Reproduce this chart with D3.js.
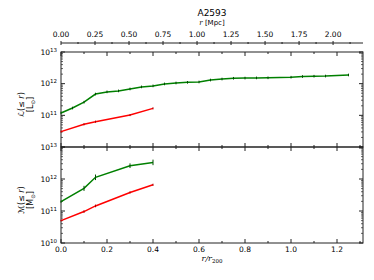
<!DOCTYPE html>
<html>
<head>
<meta charset="utf-8">
<title>A2593</title>
<script src="https://cdn.jsdelivr.net/npm/d3@7"></script>
<style>
body, html {
  margin: 0;
  background: #fff;
}
svg text {
  font-family: "DejaVu Sans", sans-serif;
  fill: #000;
}
</style>
</head>
<body>
<script>
// r/r200 sample radii and values
var lumX = [0, 0.05, 0.1, 0.15, 0.2, 0.25, 0.3, 0.35, 0.4, 0.45, 0.5, 0.55, 0.6, 0.65, 0.7, 0.75, 0.8, 0.85, 0.9, 1.0, 1.05, 1.1, 1.15, 1.25];
var lumGreen = [1.19e11, 1.7e11, 2.6e11, 4.7e11, 5.5e11, 5.9e11, 6.8e11, 7.9e11, 8.5e11, 9.8e11, 1.05e12, 1.1e12, 1.13e12, 1.3e12, 1.4e12, 1.48e12, 1.5e12, 1.52e12, 1.53e12, 1.6e12, 1.68e12, 1.72e12, 1.74e12, 1.88e12];
var lumGreenErr = 0.1;

var redX = [0, 0.1, 0.15, 0.3, 0.4];
var lumRed = [3.06e10, 5.2e10, 6.3e10, 1.02e11, 1.66e11];
var lumRedErr = 0.08;

var massX = [0, 0.1, 0.15, 0.3, 0.4];
var massGreen = [1.95e11, 5.1e11, 1.13e12, 2.6e12, 3.3e12];
var massGreenErr = [0.08, 0.2, 0.22, 0.18, 0.22];
var massRed = [5.0e10, 9.6e10, 1.44e11, 3.8e11, 6.6e11];
var massRedErr = [0.06, 0.1, 0.1, 0.08, 0.08];

var xTicks = [0, 0.2, 0.4, 0.6, 0.8, 1.0, 1.2];
var mpcTicks = [0, 0.25, 0.5, 0.75, 1.0, 1.25, 1.5, 1.75, 2.0];
var yTicks = [1e10, 1e11, 1e12, 1e13];

var W = 374, H = 280;
var left = 61, right = 363;
var topY0 = 52, topY1 = 147, botY0 = 147, botY1 = 243, mpcY = 43;

var svg = d3.select("body").append("svg")
  .attr("width", W).attr("height", H);

var x = d3.scaleLinear().domain([0, 1.313]).range([left, right]);
var xMpc = d3.scaleLinear().domain([0, 2.22]).range([left, right]);
var yTop = d3.scaleLog().domain([1e10, 1e13]).range([topY1, topY0]);
var yBot = d3.scaleLog().domain([1e10, 1e13]).range([botY1, botY0]);

var minorY = [];
for (var e = 10; e < 13; e++) {
  for (var k = 2; k < 10; k++) minorY.push(k * Math.pow(10, e));
}
var minorX = d3.range(0.1, 1.31, 0.2);

function panel(y, y0, y1, labels) {
  var g = svg.append("g");
  // frame
  g.append("rect").attr("x", left).attr("y", y0)
    .attr("width", right - left).attr("height", y1 - y0)
    .attr("fill", "none").attr("stroke", "#222").attr("stroke-width", 1);

  // x ticks, inward, bottom and top
  [[y1, -1], [y0, 1]].forEach(function (p) {
    g.selectAll(null).data(xTicks).enter().append("line")
      .attr("x1", d => x(d)).attr("x2", d => x(d))
      .attr("y1", p[0]).attr("y2", p[0] + p[1] * 4)
      .attr("stroke", "#222");
    g.selectAll(null).data(minorX).enter().append("line")
      .attr("x1", d => x(d)).attr("x2", d => x(d))
      .attr("y1", p[0]).attr("y2", p[0] + p[1] * 2)
      .attr("stroke", "#222");
  });

  // y ticks, inward, left and right
  [[left, 1], [right, -1]].forEach(function (p) {
    g.selectAll(null).data(yTicks).enter().append("line")
      .attr("y1", d => y(d)).attr("y2", d => y(d))
      .attr("x1", p[0]).attr("x2", p[0] + p[1] * 4)
      .attr("stroke", "#222");
    g.selectAll(null).data(minorY).enter().append("line")
      .attr("y1", d => y(d)).attr("y2", d => y(d))
      .attr("x1", p[0]).attr("x2", p[0] + p[1] * 2)
      .attr("stroke", "#222").attr("stroke-width", 0.7);
  });

  // y tick labels
  var t = g.selectAll(null).data(labels).enter().append("text")
    .attr("x", left - 4).attr("y", d => y(d) + 2.5)
    .attr("text-anchor", "end").attr("font-size", 7.5);
  t.append("tspan").text("10");
  t.append("tspan").attr("dy", -3).attr("font-size", 5.5)
    .text(d => Math.round(Math.log10(d)));
  return g;
}

panel(yTop, topY0, topY1, [1e11, 1e12, 1e13]);
panel(yBot, botY0, botY1, [1e10, 1e11, 1e12, 1e13]);

function series(y, xs, ys, errs, color, barColor) {
  var line = d3.line().x((d, i) => x(xs[i])).y(d => y(d));
  svg.append("path").datum(ys)
    .attr("d", line).attr("fill", "none")
    .attr("stroke", color).attr("stroke-width", 1.5);
  svg.selectAll(null).data(ys).enter().append("line")
    .attr("x1", (d, i) => x(xs[i])).attr("x2", (d, i) => x(xs[i]))
    .attr("y1", (d, i) => y(d * (1 + (Array.isArray(errs) ? errs[i] : errs))))
    .attr("y2", (d, i) => y(d / (1 + (Array.isArray(errs) ? errs[i] : errs))))
    .attr("stroke", barColor).attr("stroke-width", 1);
}

series(yTop, lumX, lumGreen, lumGreenErr, "#008000", "#004d00");
series(yTop, redX, lumRed, lumRedErr, "#ff0000", "#b00000");
series(yBot, massX, massGreen, massGreenErr, "#008000", "#004d00");
series(yBot, massX, massRed, massRedErr, "#ff0000", "#b00000");

// bottom x axis labels
svg.selectAll(null).data(xTicks).enter().append("text")
  .attr("x", d => x(d)).attr("y", botY1 + 9)
  .attr("text-anchor", "middle").attr("font-size", 7.5)
  .text(d => d.toFixed(1));

svg.append("text").attr("x", (left + right) / 2).attr("y", botY1 + 18)
  .attr("text-anchor", "middle").attr("font-size", 8)
  .style("font-family", "DejaVu Serif, serif").style("font-style", "italic")
  .html('r/r<tspan font-size="5.5" dy="1.5" font-style="normal">200</tspan>');

// top Mpc axis
var mpc = svg.append("g");
mpc.append("line").attr("x1", left).attr("x2", right)
  .attr("y1", mpcY).attr("y2", mpcY).attr("stroke", "#222");
mpc.selectAll(null).data(mpcTicks).enter().append("line")
  .attr("x1", d => xMpc(d)).attr("x2", d => xMpc(d))
  .attr("y1", mpcY - 2).attr("y2", mpcY + 2).attr("stroke", "#222");
mpc.selectAll(null).data(d3.range(0.125, 2.22, 0.25)).enter().append("line")
  .attr("x1", d => xMpc(d)).attr("x2", d => xMpc(d))
  .attr("y1", mpcY - 1).attr("y2", mpcY + 1).attr("stroke", "#222");
mpc.selectAll(null).data(mpcTicks).enter().append("text")
  .attr("x", d => xMpc(d)).attr("y", mpcY - 6)
  .attr("text-anchor", "middle").attr("font-size", 7.5)
  .text(d => d.toFixed(2));

svg.append("text").attr("x", (left + right) / 2).attr("y", 25)
  .attr("text-anchor", "middle").attr("font-size", 7)
  .html('<tspan font-style="italic" style="font-family:DejaVu Serif">r</tspan> [Mpc]');

svg.append("text").attr("x", (left + right) / 2).attr("y", 16)
  .attr("text-anchor", "middle").attr("font-size", 9)
  .text("A2593");

// y axis labels
function ylab(cy, sym, unit) {
  var g = svg.append("g").attr("transform", "translate(24," + cy + ") rotate(-90)");
  g.append("text").attr("text-anchor", "middle").attr("font-size", 8)
    .html('<tspan font-style="italic">' + sym + '</tspan>(≤ <tspan font-style="italic">r</tspan>)');
  g.append("text").attr("y", 9).attr("text-anchor", "middle").attr("font-size", 8)
    .html('[' + unit + '<tspan font-size="5.5" dy="1.5">⊙</tspan><tspan dy="-1.5">]</tspan>');
}
ylab((topY0 + topY1) / 2 + 5, "ℒ", "L");
ylab((botY0 + botY1) / 2 + 5, "ℳ", "M");
</script>
</body>
</html>
